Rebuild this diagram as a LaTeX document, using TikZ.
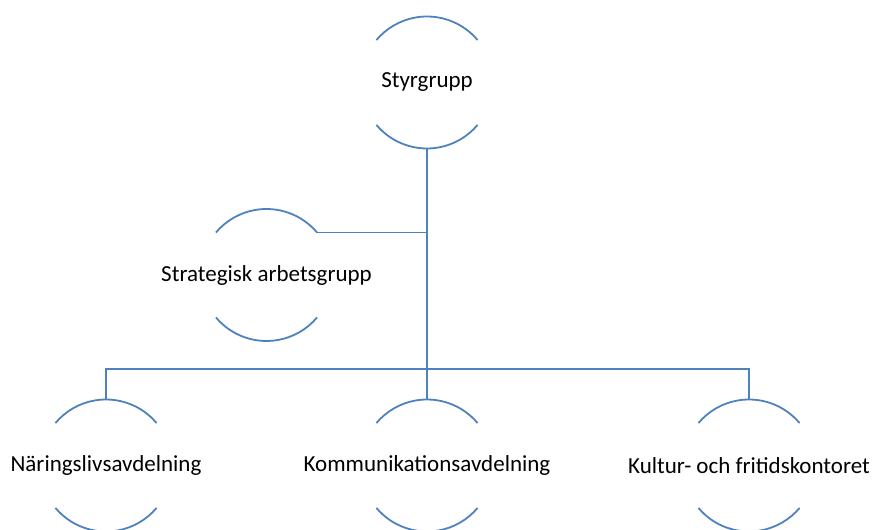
\documentclass[tikz,border=0pt]{standalone}
\usepackage{fontspec}
\setmainfont{Carlito}
\usetikzlibrary{positioning}

\definecolor{orgblue}{HTML}{4F81BD}

\tikzset{
  orgline/.style={draw=orgblue, line width=1.8bp},
  orgtext/.style={inner sep=0pt, font=\fontsize{23bp}{27bp}\selectfont}
}

\begin{document}
\begin{tikzpicture}[x=1bp,y=1bp]
\useasboundingbox (0,0) rectangle (875,530);

% Rutor (text)
\node[orgtext] (sty)   at (427,447.5) {Styrgrupp};
\node[orgtext] (strat) at (266.5,255) {Strategisk arbetsgrupp};
\node[orgtext] (nar)   at (106,64.5)  {Näringslivsavdelning};
\node[orgtext] (kom)   at (427,64.5)  {Kommunikationsavdelning};
\node[orgtext] (kul)   at (749,64.5)  {Kultur- och fritidskontoret};

% Bågar runt varje ruta
\foreach \n in {sty,strat,nar,kom,kul} {
    \draw[orgline] (\n.center) ++(40:66) arc (40:140:66);
    \draw[orgline] (\n.center) ++(220:66) arc (220:320:66);
    \coordinate (\n-top) at ([yshift=66bp]\n.center);
    \coordinate (\n-bot) at ([yshift=-66bp]\n.center);
    \coordinate (\n-ne) at ([shift={(40:66bp)}]\n.center);
}

% Linjer
\coordinate (bus) at (427,161);
\draw[orgline] (sty-bot) -- (kom-top);
\draw[orgline] (strat-ne) -- (strat-ne -| sty-bot);
\draw[orgline] (nar-top) |- (bus) -| (kul-top);

\end{tikzpicture}
\end{document}
